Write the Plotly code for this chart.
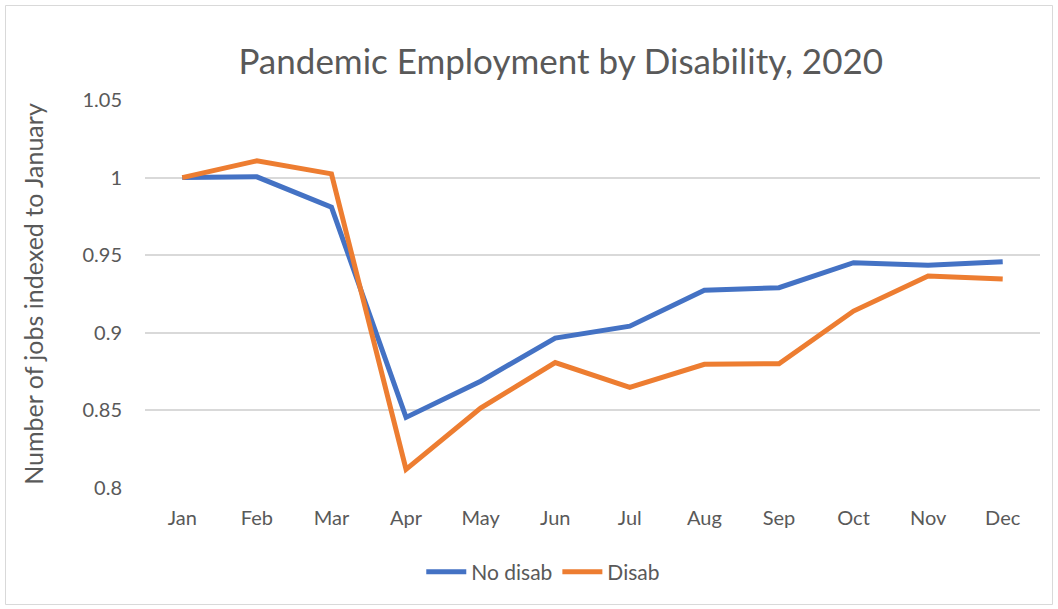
import plotly.graph_objects as go

# Monthly employment indexed to January 2020
months = ["Jan", "Feb", "Mar", "Apr", "May", "Jun", "Jul", "Aug", "Sep", "Oct", "Nov", "Dec"]
no_disab = [1.000, 1.0005, 0.981, 0.8455, 0.8688, 0.8966, 0.9043, 0.9274, 0.9291, 0.9452, 0.9435, 0.9458]
disab = [1.000, 1.0108, 1.0024, 0.8120, 0.8515, 0.8808, 0.8648, 0.8797, 0.8801, 0.9140, 0.9366, 0.9347]
y_ticks = [0.8, 0.85, 0.9, 0.95, 1.0, 1.05]
y_tick_text = ["0.8", "0.85", "0.9", "0.95", "1", "1.05"]

FONT = "Lato, Calibri, sans-serif"
TEXT = "#595959"

fig = go.Figure()
fig.add_trace(go.Scatter(x=months, y=no_disab, name="No disab", mode="lines",
                         line=dict(color="#4472C4", width=5, shape="linear")))
fig.add_trace(go.Scatter(x=months, y=disab, name="Disab", mode="lines",
                         line=dict(color="#ED7D31", width=5, shape="linear")))

W, H = 1058, 609
ml, mr, mt, mb = 145, 18, 100, 121
pw, ph = W - ml - mr, H - mt - mb

def px_x(x):
    return (x - ml) / pw

def px_y(y):
    return (H - mb - y) / ph

fig.update_layout(
    width=W, height=H,
    margin=dict(l=ml, r=mr, t=mt, b=mb),
    paper_bgcolor="white", plot_bgcolor="white",
    font=dict(family=FONT, color=TEXT, size=20),
    title=dict(text="Pandemic Employment by Disability, 2020", x=0.53, xanchor="center",
               y=1 - 62 / H, yanchor="middle", font=dict(size=35, color=TEXT, family=FONT)),
    xaxis=dict(type="category", range=[-0.5, 11.5], showgrid=False, showline=False,
               zeroline=False, ticks="", ticklabelstandoff=16,
               tickfont=dict(size=20, color=TEXT)),
    yaxis=dict(range=[0.8, 1.05], tickvals=y_ticks, ticktext=y_tick_text,
               showgrid=True, gridcolor="#D9D9D9", gridwidth=1.5, zeroline=False,
               showline=False, ticks="", ticklabelstandoff=22,
               tickfont=dict(size=20, color=TEXT),
               title=dict(text="Number of jobs indexed to January", standoff=31,
                          font=dict(size=25, color=TEXT))),
    legend=dict(orientation="h", x=0.445, xanchor="center", y=px_y(572), yanchor="middle",
                font=dict(size=21, color=TEXT), itemwidth=40, tracegroupgap=0),
    showlegend=True,
    shapes=[dict(type="rect", xref="paper", yref="paper",
                 x0=px_x(5.5), x1=px_x(1052.5), y0=px_y(604.5), y1=px_y(5.5),
                 line=dict(color="#D9D9D9", width=1), layer="below")],
)

fig.write_html("out.html")
